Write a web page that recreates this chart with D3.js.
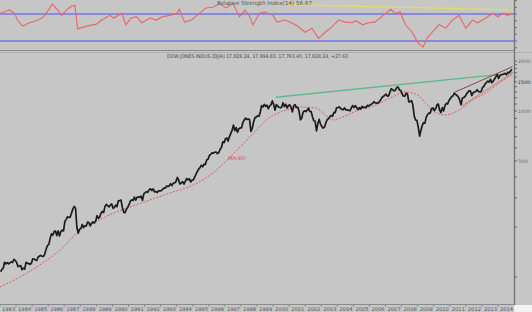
<!DOCTYPE html>
<html>
<head>
<meta charset="utf-8">
<script src="https://cdn.jsdelivr.net/npm/d3@7"></script>
<style>
  body { margin: 0; background: #c6c6c6; }
  svg { display: block; font-family: "DejaVu Sans", sans-serif; }
</style>
</head>
<body>
<svg id="chart" width="532" height="312"></svg>
<script>
// monthly closes, Jan 1983 .. Nov 2014
const closeStart = "1983-01";
const closes = [
  1076, 1113, 1130, 1226, 1200, 1222, 1199, 1216, 1233, 1225, 1276, 1259,
  1221, 1155, 1165, 1171, 1105, 1132, 1115, 1224, 1207, 1207, 1189, 1212,
  1287, 1284, 1267, 1258, 1315, 1336, 1348, 1334, 1329, 1375, 1472, 1547,
  1571, 1709, 1819, 1784, 1877, 1893, 1775, 1898, 1768, 1878, 1914, 1896,
  2158, 2224, 2305, 2286, 2292, 2419, 2572, 2663, 2596, 1994, 1834, 1939,
  1958, 2072, 1988, 2032, 2031, 2142, 2129, 2032, 2113, 2149, 2114, 2169,
  2342, 2258, 2294, 2419, 2480, 2440, 2661, 2737, 2693, 2645, 2706, 2753,
  2591, 2627, 2707, 2657, 2877, 2881, 2905, 2614, 2453, 2442, 2560, 2634,
  2736, 2882, 2914, 2888, 3028, 2907, 3025, 3044, 3017, 3069, 2895, 3169,
  3224, 3267, 3236, 3359, 3397, 3319, 3394, 3257, 3272, 3226, 3305, 3301,
  3310, 3370, 3435, 3428, 3527, 3516, 3540, 3651, 3555, 3681, 3684, 3754,
  3978, 3832, 3636, 3682, 3758, 3625, 3765, 3913, 3843, 3908, 3739, 3834,
  3844, 4011, 4158, 4321, 4465, 4556, 4709, 4611, 4789, 4756, 5075, 5117,
  5395, 5486, 5588, 5569, 5643, 5655, 5529, 5616, 5882, 6029, 6522, 6448,
  6813, 6878, 6584, 7009, 7331, 7673, 8223, 7622, 7945, 7443, 7823, 7908,
  7907, 8546, 8800, 9063, 8900, 8952, 8883, 7539, 7843, 8592, 9117, 9181,
  9359, 9307, 9786, 10789, 10560, 10971, 10655, 10829, 10337, 10730, 10878, 11497,
  10941, 10128, 10922, 10734, 10522, 10448, 10522, 11215, 10651, 10971, 10415, 10788,
  10887, 10495, 9879, 10735, 10912, 10502, 10523, 9950, 8848, 9075, 9852, 10022,
  9920, 10106, 10404, 9946, 9925, 9243, 8737, 8664, 7592, 8397, 8896, 8342,
  8054, 7891, 7992, 8480, 8850, 8985, 9234, 9416, 9275, 9801, 9782, 10454,
  10488, 10584, 10358, 10226, 10188, 10435, 10140, 10174, 10080, 10027, 10428, 10783,
  10490, 10766, 10504, 10193, 10467, 10275, 10641, 10482, 10569, 10440, 10806, 10718,
  10865, 10993, 11109, 11367, 11168, 11150, 11186, 11381, 11679, 12081, 12221, 12463,
  12622, 12269, 12354, 13063, 13628, 13409, 13212, 13358, 13896, 13930, 13372, 13265,
  12650, 12266, 12263, 12820, 12638, 11350, 11378, 11544, 10851, 9325, 8829, 8776,
  8001, 7063, 7609, 8168, 8500, 8447, 9172, 9496, 9712, 9713, 10345, 10428,
  10067, 10325, 10857, 11009, 10137, 9774, 10466, 10015, 10788, 11118, 11006, 11578,
  11892, 12226, 12320, 12811, 12570, 12414, 12143, 11614, 10913, 11955, 12046, 12218,
  12633, 12952, 13212, 13214, 12393, 12880, 13009, 13091, 13437, 13096, 13026, 13104,
  13861, 14054, 14579, 14840, 15116, 14910, 15500, 14810, 15130, 15546, 16086, 16577,
  15699, 16322, 16458, 16581, 16717, 16827, 16563, 17098, 17043, 17391, 17828
];

// moving average (red dotted)
const maDates = ["1983-01", "1984-04", "1985-09", "1986-10", "1988-01", "1988-12", "1989-11",
  "1991-02", "1992-05", "1993-08", "1994-08", "1995-06", "1996-04", "1997-05", "1998-04",
  "1999-02", "1999-08", "2000-11", "2001-11", "2002-09", "2003-04", "2003-10", "2004-05",
  "2005-05", "2006-06", "2007-06", "2008-04", "2009-01", "2009-07", "2010-02", "2010-10",
  "2011-08", "2012-06", "2013-04", "2014-02", "2014-11"];
const maValues = [872, 1000, 1216, 1456, 1920, 2146, 2365,
  2640, 2910, 3210, 3440, 3740, 4230, 5280, 6500,
  7900, 8830, 10140, 10570, 10420, 9460, 8830, 9200,
  10140, 10870, 12140, 13010, 12480, 11170, 9860, 9460,
  10140, 11650, 12840, 14740, 16470];

// RSI(14)
const rsiDates = ["1983-01", "1983-04", "1983-08", "1983-12", "1984-02", "1984-06", "1984-11",
  "1985-04", "1985-09", "1986-02", "1986-04", "1986-08", "1986-11", "1987-03", "1987-06",
  "1987-09", "1987-11", "1988-06", "1989-01", "1989-05", "1989-11", "1990-02", "1990-08",
  "1990-11", "1991-03", "1991-07", "1991-11", "1992-05", "1992-10", "1993-02", "1993-08",
  "1994-01", "1994-03", "1994-07", "1994-12", "1995-06", "1995-11", "1996-04", "1996-09",
  "1997-02", "1997-07", "1997-12", "1998-04", "1998-07", "1998-10", "1999-03", "1999-07",
  "2000-01", "2000-04", "2000-10", "2001-03", "2001-08", "2002-01", "2002-06", "2002-11",
  "2003-04", "2003-09", "2004-02", "2004-07", "2004-12", "2005-03", "2005-08", "2005-12",
  "2006-05", "2006-09", "2007-01", "2007-05", "2007-08", "2007-12", "2008-04", "2008-09",
  "2009-01", "2009-05", "2009-08", "2009-12", "2010-05", "2010-10", "2011-03", "2011-08",
  "2012-01", "2012-06", "2012-10", "2013-04", "2013-09", "2014-01", "2014-04", "2014-08",
  "2014-11"];
const rsiValues = [71, 73, 76, 71, 61, 52, 57,
  60, 65, 78, 85, 76, 68, 76, 81,
  83, 48, 52, 55, 61, 68, 64, 71,
  54, 64, 66, 57, 64, 61, 66, 68,
  71, 77, 58, 61, 71, 79, 80, 85,
  79, 86, 66, 76, 68, 54, 71, 73,
  68, 58, 61, 57, 51, 43, 49, 34,
  43, 51, 61, 58, 57, 60, 54, 57,
  58, 64, 71, 77, 71, 73, 54, 43,
  28, 21, 34, 43, 54, 49, 61, 68,
  49, 61, 57, 64, 71, 66, 71, 68,
  70];

// drawn trend lines [date, value]
const resistanceLine = [["2000-03", 12100], ["2014-12", 16900]];
const channelUpper = [["2011-05", 13000], ["2014-12", 18500]];
const channelLower = [["2011-10", 10700], ["2014-12", 17000]];
const rsiTrendLine = [["2000-09", 84], ["2014-12", 76]];

const priceTicks = [1000, 2000, 3000, 4000, 5000, 6000, 7000, 8000, 9000,
  10000, 11000, 12000, 13000, 14000, 15000, 16000, 17000, 18000, 19000, 20000];
const priceLabels = [5000, 10000, 15000, 20000];
const rsiTicks = [20, 30, 40, 50, 60, 70, 80, 90];
const rsiLevels = [30, 70];
const years = d3.range(1983, 2015);

const titleText = "DOW JONES INDUS (DJIA) 17,828.24, 17,894.83, 17,763.40, 17,828.24, +27.63";
const rsiTitle = "Relative Strength Index(14) 56.67";
const maLabel = "MA(40)";

const parse = d3.timeParse("%Y-%m");
const svg = d3.select("#chart");
const W = 532, H = 312, right = 514;

const x = d3.scaleTime()
  .domain([new Date(1983, 0, 1), new Date(2015, 0, 1)])
  .range([0, right]);
const y = d3.scaleLog().domain([1000, 20000]).range([277, 61]);
const ry = d3.scaleLinear().domain([30, 70]).range([41, 14]);

const startDate = parse(closeStart);
const priceData = closes.map((v, i) => ({ date: new Date(startDate.getFullYear(), startDate.getMonth() + i, 15), value: v }));

// backgrounds
svg.append("rect").attr("width", W).attr("height", H).attr("fill", "#c6c6c6");
svg.append("rect").attr("x", right).attr("y", 305).attr("width", W - right).attr("height", H - 305).attr("fill", "#f2f2f2");

// ---- RSI panel
const rsiG = svg.append("g");
rsiG.selectAll("line.level").data(rsiLevels).join("line")
  .attr("x1", 0).attr("x2", right)
  .attr("y1", d => ry(d)).attr("y2", d => ry(d))
  .attr("stroke", "#7474e6").attr("stroke-width", 1.6);

rsiG.append("path")
  .datum(rsiTrendLine)
  .attr("d", d3.line().x(d => x(parse(d[0]))).y(d => ry(d[1])))
  .attr("stroke", "#e2da70").attr("stroke-width", 1.4).attr("fill", "none");

rsiG.append("path")
  .datum(rsiDates.map((d, i) => ({ date: parse(d), value: rsiValues[i] })))
  .attr("d", d3.line().x(d => x(d.date)).y(d => ry(d.value)))
  .attr("stroke", "#ec6464").attr("stroke-width", 1.1).attr("fill", "none");

rsiG.append("text").attr("x", 217).attr("y", 5)
  .attr("font-size", 5.6).attr("fill", "#555").text(rsiTitle);

rsiG.selectAll("line.rt").data(rsiTicks).join("line")
  .attr("x1", right).attr("x2", right + 3)
  .attr("y1", d => ry(d)).attr("y2", d => ry(d))
  .attr("stroke", "#555").attr("stroke-width", 0.8);

svg.append("line").attr("x1", 0).attr("x2", right).attr("y1", 50.5).attr("y2", 50.5)
  .attr("stroke", "#8a8a8a").attr("stroke-width", 1.2);
svg.append("line").attr("x1", 0).attr("x2", W).attr("y1", 52.5).attr("y2", 52.5)
  .attr("stroke", "#b0b0b0").attr("stroke-width", 1);

// ---- price panel
const lineFrom = pts => d3.line().x(d => x(parse(d[0]))).y(d => y(d[1]))(pts);

svg.append("path").attr("d", lineFrom(resistanceLine))
  .attr("stroke", "#5fb88c").attr("stroke-width", 1.3).attr("fill", "none");
svg.append("path").attr("d", lineFrom(channelUpper))
  .attr("stroke", "#7a3a3a").attr("stroke-width", 0.9).attr("fill", "none");
svg.append("path").attr("d", lineFrom(channelLower))
  .attr("stroke", "#d46a6a").attr("stroke-width", 0.9).attr("fill", "none");

svg.append("path")
  .datum(maDates.map((d, i) => ({ date: parse(d), value: maValues[i] })))
  .attr("d", d3.line().curve(d3.curveMonotoneX).x(d => x(d.date)).y(d => y(d.value)))
  .attr("stroke", "#e25a5a").attr("stroke-width", 1).attr("stroke-dasharray", "2,1.5")
  .attr("fill", "none");

svg.append("path")
  .datum(priceData)
  .attr("d", d3.line().x(d => x(d.date)).y(d => y(d.value)))
  .attr("stroke", "#1c1c1c").attr("stroke-width", 1.7).attr("fill", "none")
  .attr("stroke-linejoin", "round");

svg.append("text").attr("x", 228).attr("y", 160)
  .attr("font-size", 5).attr("fill", "#e04848").text(maLabel);

svg.append("text").attr("x", 167).attr("y", 58)
  .attr("font-size", 5).attr("fill", "#444")
  .attr("textLength", 181).attr("lengthAdjust", "spacingAndGlyphs").text(titleText);

// right axis
svg.append("line").attr("x1", right + 0.5).attr("x2", right + 0.5).attr("y1", 0).attr("y2", 305)
  .attr("stroke", "#777").attr("stroke-width", 1.4);
svg.selectAll("line.pt").data(priceTicks).join("line")
  .attr("x1", right).attr("x2", right + 3)
  .attr("y1", d => y(d)).attr("y2", d => y(d))
  .attr("stroke", "#555").attr("stroke-width", 0.8);
svg.selectAll("text.pl").data(priceLabels).join("text")
  .attr("x", right + 4).attr("y", d => y(d) + 1.8)
  .attr("font-size", 4.8)
  .attr("textLength", d => String(d).length * 2.5)
  .attr("lengthAdjust", "spacingAndGlyphs")
  .attr("fill", d => d === 15000 ? "#1e1e1e" : "#666")
  .text(d => d);

// bottom axis
svg.append("line").attr("x1", 0).attr("x2", right).attr("y1", 304.5).attr("y2", 304.5)
  .attr("stroke", "#8a8a8a").attr("stroke-width", 1);
svg.selectAll("line.xt").data(years).join("line")
  .attr("x1", d => x(new Date(d, 0, 1))).attr("x2", d => x(new Date(d, 0, 1)))
  .attr("y1", 305).attr("y2", 307)
  .attr("stroke", "#666").attr("stroke-width", 0.6);
svg.selectAll("text.xl").data(years).join("text")
  .attr("x", d => x(new Date(d, 0, 1)) + 2).attr("y", 311)
  .attr("font-size", 5.2).attr("fill", "#555")
  .text(d => d);
</script>
</body>
</html>
